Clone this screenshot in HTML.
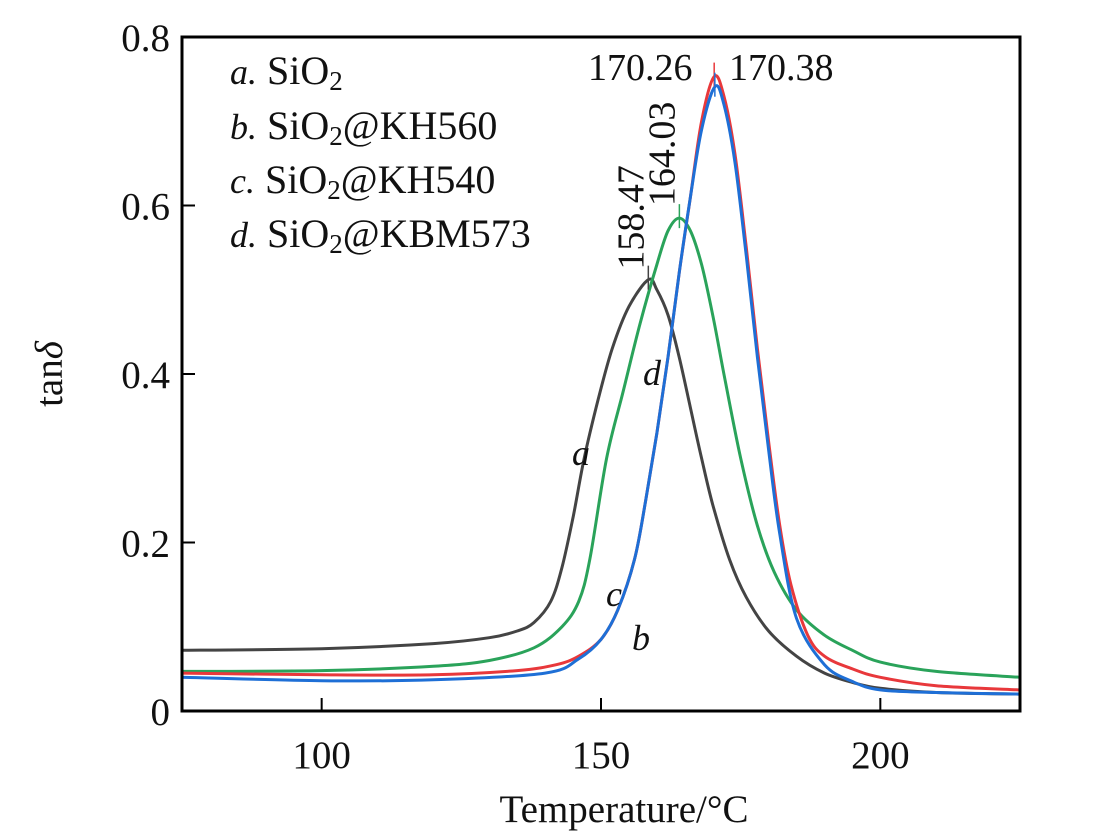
<!DOCTYPE html>
<html><head><meta charset="utf-8"><style>
body{margin:0;background:#fff}
svg{display:block;font-family:"Liberation Serif",serif}
</style></head><body>
<svg id="c" width="1099" height="835"></svg>
<script>
const xTicks=[100,150,200];
const yTicks=[0,0.2,0.4,0.6,0.8];
const yTickLabels=["0","0.2","0.4","0.6","0.8"];
const aT=[75,100,120,130,135,138,141,143,145,147,149.5,152,155,158.5,160,162,164,166,168,170,173,176,180,185,190,195,200,210,225];
const aV=[0.072,0.074,0.080,0.087,0.095,0.105,0.13,0.17,0.23,0.30,0.37,0.43,0.48,0.512,0.50,0.47,0.42,0.36,0.30,0.245,0.18,0.135,0.095,0.065,0.045,0.034,0.027,0.022,0.02];
const cT=[75,100,120,130,138,143,146,148,151,154,157,160,162,164,166,168,170,172,175,178,181,185,190,195,200,210,225];
const cV=[0.047,0.048,0.053,0.06,0.075,0.10,0.13,0.18,0.30,0.38,0.46,0.53,0.57,0.585,0.57,0.53,0.47,0.40,0.30,0.22,0.165,0.12,0.09,0.072,0.058,0.047,0.04];
const bT=[75,100,120,135,142,146,150,153,156,158,160,162,164,166,168,170.26,172,174,176,178,180,182,184,187,190,195,200,210,225];
const bV=[0.045,0.043,0.043,0.048,0.055,0.065,0.085,0.12,0.18,0.25,0.33,0.42,0.52,0.61,0.70,0.753,0.73,0.66,0.55,0.43,0.32,0.22,0.15,0.09,0.065,0.05,0.04,0.03,0.025];
const dT=[75,100,120,140,146,150,153,156,158,160,162,164,166,168,170.38,172,174,176,178,180,182,185,190,195,200,210,225];
const dV=[0.04,0.036,0.037,0.045,0.062,0.085,0.12,0.18,0.25,0.33,0.42,0.52,0.61,0.69,0.741,0.72,0.65,0.54,0.42,0.31,0.21,0.11,0.055,0.035,0.025,0.022,0.02];
const peaksT=[158.47,164.03,170.26,170.38];
const peaksV=[0.512,0.585,0.753,0.741];
const peakLabels=["158.47","164.03","170.26","170.38"];
const colors=["#444","#2aa35a","#e8383b","#1e6fd6"];
const X0=182,X1=1020,Y0=711,Y1=37;
const sx=t=>X0+(t-75)/(225-75)*(X1-X0);
const sy=v=>Y0-(v/0.8)*(Y0-Y1);
const svg=document.getElementById('c');
const NS="http://www.w3.org/2000/svg";
function mk(tag,at,txt){const e=document.createElementNS(NS,tag);for(const k in at)e.setAttribute(k,at[k]);if(txt!==undefined)e.textContent=txt;svg.appendChild(e);return e;}
function smooth(P){let d='M'+P[0][0].toFixed(1)+','+P[0][1].toFixed(1);
 for(let i=0;i<P.length-1;i++){const p0=P[Math.max(0,i-1)],p1=P[i],p2=P[i+1],p3=P[Math.min(P.length-1,i+2)];
  const c1x=p1[0]+(p2[0]-p0[0])/6,c1y=p1[1]+(p2[1]-p0[1])/6,c2x=p2[0]-(p3[0]-p1[0])/6,c2y=p2[1]-(p3[1]-p1[1])/6;
  d+=` C${c1x.toFixed(1)},${c1y.toFixed(1)} ${c2x.toFixed(1)},${c2y.toFixed(1)} ${p2[0].toFixed(1)},${p2[1].toFixed(1)}`;}
 return d;}
[[aT,aV,'curve-a-sio2',0],[cT,cV,'curve-c-kh540',1],[bT,bV,'curve-b-kh560',2],[dT,dV,'curve-d-kbm573',3]].forEach(s=>{
 const P=s[0].map((t,j)=>[sx(t),sy(s[1][j])]);
 const p=mk('path',{d:smooth(P),fill:'none',stroke:colors[s[3]],'stroke-width':3,'stroke-linejoin':'round'});
 
 
});
peaksT.forEach((t,i)=>{
 const m=mk('line',{x1:sx(t),x2:sx(t),y1:sy(peaksV[i])-14,y2:sy(peaksV[i])+10,stroke:colors[i],'stroke-width':1.5});
 
 
});
function rot(x,y,txt){const e=mk('text',{x:x,y:y,'font-size':38,fill:'#111',transform:`rotate(-90 ${x} ${y})`},txt);}
rot(sx(peaksT[0])-5,sy(peaksV[0])-10,peakLabels[0]);
rot(sx(peaksT[1])-5,sy(peaksV[1])-12,peakLabels[1]);
let l=mk('text',{x:588,y:80,'font-size':38,fill:'#111'},peakLabels[2]);
l=mk('text',{x:729,y:80,'font-size':38,fill:'#111'},peakLabels[3]);
const fr=mk('rect',{x:X0,y:Y1,width:X1-X0,height:Y0-Y1,fill:'none',stroke:'#000','stroke-width':3});

xTicks.forEach(t=>{
 const tk=mk('line',{x1:sx(t),x2:sx(t),y1:Y0,y2:Y0-13,stroke:'#000','stroke-width':2});
 
 const tl=mk('text',{x:sx(t),y:768,'font-size':39,'text-anchor':'middle',fill:'#111'},String(t));
 
});
yTicks.forEach((v,i)=>{
 if(v>0&&v<0.8){const tk=mk('line',{x1:X0,x2:X0+13,y1:sy(v),y2:sy(v),stroke:'#000','stroke-width':2});
 }
 const tl=mk('text',{x:170,y:sy(v)+14,'font-size':39,'text-anchor':'end',fill:'#111'},yTickLabels[i]);
 
});
</script>
<svg width="1099" height="835" style="position:absolute;left:0;top:0">
<g font-family="Liberation Serif,serif" fill="#111">
<text x="624" y="822" font-size="39" text-anchor="middle">Temperature/°C</text>
<text x="62" y="374" font-size="39" text-anchor="middle" transform="rotate(-90 62 374)">tan<tspan font-style="italic">δ</tspan></text>
<g font-size="40">
<text x="230" y="84"><tspan font-style="italic" font-size="36">a.</tspan> SiO<tspan font-size="27" dy="6">2</tspan></text>
<text x="230" y="139"><tspan font-style="italic" font-size="36">b.</tspan> SiO<tspan font-size="27" dy="6">2</tspan><tspan dy="-6">@KH560</tspan></text>
<text x="230" y="193"><tspan font-style="italic" font-size="36">c.</tspan> SiO<tspan font-size="27" dy="6">2</tspan><tspan dy="-6">@KH540</tspan></text>
<text x="230" y="247"><tspan font-style="italic" font-size="36">d.</tspan> SiO<tspan font-size="27" dy="6">2</tspan><tspan dy="-6">@KBM573</tspan></text>
</g>
<g font-size="36" font-style="italic">
<text x="572" y="465">a</text>
<text x="632" y="650">b</text>
<text x="606" y="606">c</text>
<text x="643" y="385">d</text>
</g>
</g>
</svg>
</body></html>
